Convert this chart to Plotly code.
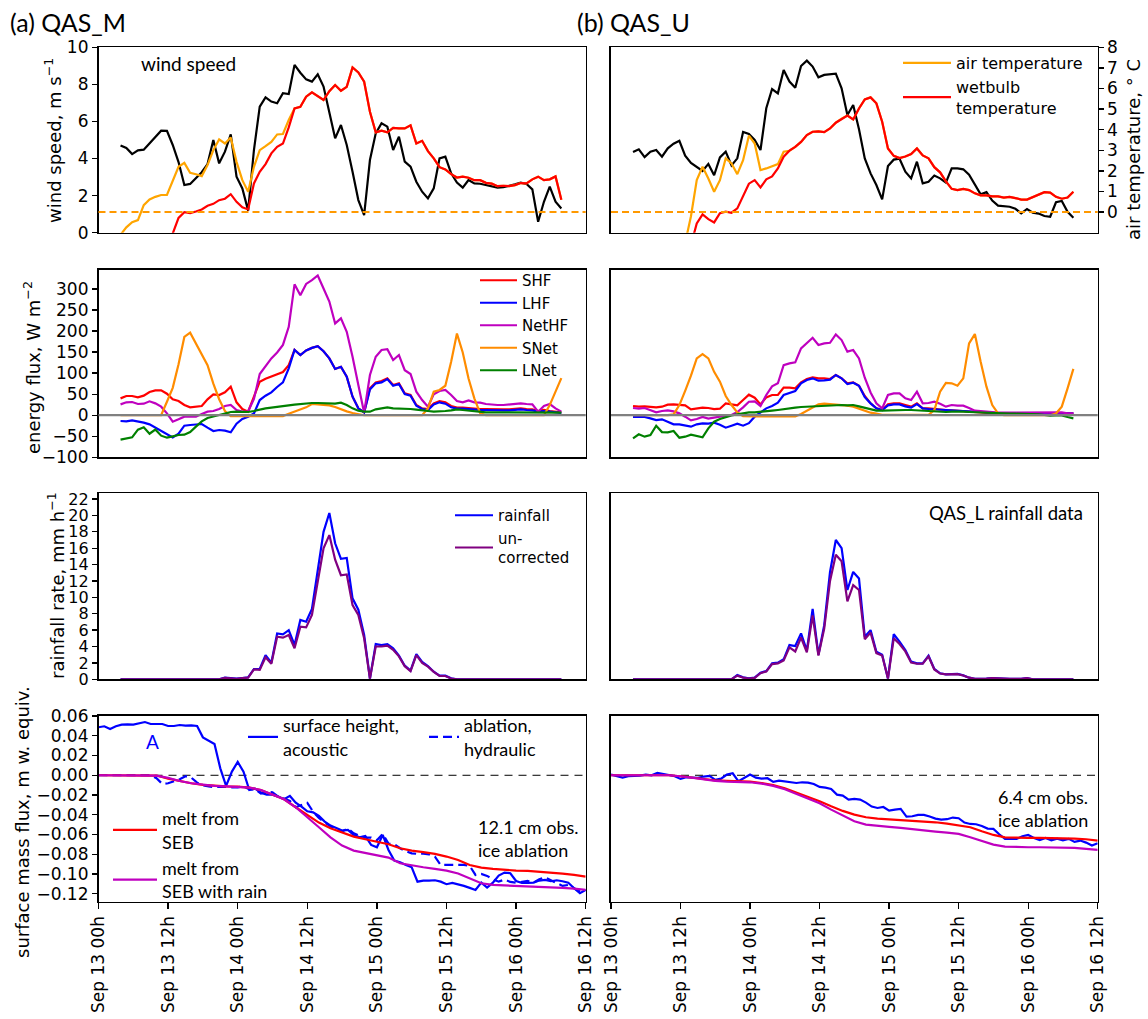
import plotly.graph_objects as go

W, H = 1148, 1019

# ---------------- time grids (hours after Sep 13 00h) ----------------
HOURS_MET = [h + 0.8 for h in range(3, 80)]      # 77 hourly samples (rows 1-3)
HOURS_SMB = list(range(0, 85))                   # hourly samples (row 4 observations)
HOURS_SMB2 = list(range(0, 85, 2))               # 2-hourly samples (row 4 SEB melt)

TICK_HOURS = [0, 12, 24, 36, 48, 60, 72, 84]
TICK_LABELS = ["Sep 13 00h", "Sep 13 12h", "Sep 14 00h", "Sep 14 12h",
               "Sep 15 00h", "Sep 15 12h", "Sep 16 00h", "Sep 16 12h"]

# ---------------- (a) QAS_M ----------------
WIND_M = [4.71, 4.57, 4.24, 4.44, 4.48, 4.82, 5.18, 5.50, 5.49, 4.73,
          3.81, 2.57, 2.63, 2.93, 3.26, 3.70, 5.00, 3.74, 4.37, 5.30,
          3.02, 2.39, 1.19, 4.46, 6.80, 7.30, 7.07, 6.98, 7.52, 7.48,
          9.05, 8.63, 8.27, 8.15, 8.54, 7.88, 6.53, 5.09, 5.81, 4.73,
          3.29, 1.76, 0.95, 3.92, 5.36, 5.90, 5.72, 4.46, 5.18, 3.83,
          3.56, 2.75, 2.21, 1.85, 2.39, 4.01, 4.10, 3.20, 2.70, 2.43,
          2.84, 2.66, 2.64, 2.57, 2.50, 2.43, 2.45, 2.55, 2.61, 2.70,
          2.63, 2.34, 0.59, 1.67, 2.48, 1.67, 1.31]
WETBULB_M = [None, None, None, None, None, None, None, None, -1.8, -1.0,
             -0.28, 0.0, -0.05, 0.03, 0.13, 0.31, 0.40, 0.58, 0.65, 0.87,
             0.50, 0.23, 0.13, 1.39, 1.96, 2.33, 2.85, 3.17, 3.33, 4.11,
             5.03, 5.11, 5.60, 5.81, 5.63, 5.44, 5.87, 6.17, 5.89, 6.08,
             7.02, 6.78, 6.33, 4.87, 3.87, 3.95, 3.87, 4.09, 4.06, 4.06,
             4.21, 3.33, 3.46, 2.96, 2.61, 2.18, 2.07, 1.84, 1.68, 1.72,
             1.67, 1.55, 1.55, 1.42, 1.38, 1.26, 1.28, 1.26, 1.31, 1.41,
             1.39, 1.59, 1.72, 1.55, 1.59, 1.73, 0.60]
AIRT_M = [-1.1, -0.74, -0.49, -0.39, 0.34, 0.61, 0.74, 0.83, 0.83, 1.47,
          2.20, 2.39, 1.91, 1.84, 1.75, 2.28, 3.01, 3.53, 3.33, 3.62,
          2.44, 1.55, 0.99, 2.20, 3.01, 3.20, 3.41, 3.77, 3.79, 4.47,
          5.03, 5.11, 5.60, 5.81, 5.63, 5.44, 5.87, 6.17, 5.89, 6.08,
          7.02, 6.78, 6.33, 4.87, 3.87, 3.95, 3.87, 4.09, 4.06, 4.06,
          4.21, 3.33, 3.46, 2.96, 2.61, 2.18, 2.07, 1.84, 1.68, 1.72,
          1.67, 1.55, 1.55, 1.42, 1.38, 1.26, 1.28, 1.26, 1.31, 1.41,
          1.39, 1.59, 1.72, 1.55, 1.59, 1.73, 0.60]

SHF_M = [40, 45.6, 45.6, 42.4, 46.4, 55.1, 59, 59, 51.1, 37.7,
         33.7, 24.2, 18.7, 20.3, 21.9, 37.7, 49.6, 48, 54.3, 67.7,
         30.6, 14.7, 8.4, 44, 79.6, 86.8, 91.5, 97.8, 102.6, 119,
         155, 143, 154, 160, 164, 152, 135, 110, 115, 91.5,
         44, 16.3, 6.8, 63.8, 78, 81, 87.4, 71.7, 75.7, 51.9,
         48, 24.2, 16.3, 14.7, 28.2, 33.7, 30.6, 21.9, 17.9, 17.9,
         16.3, 16.3, 14.7, 14.7, 13.9, 13.9, 13.9, 13.9, 14.7, 16.3,
         14.7, 13.9, 10, 12.4, 10, 8.4, 6.8]
LHF_M = [-13.8, -14.6, -12.2, -14.6, -17.7, -21.7, -29.6, -38.3, -45.4, -52.6,
         -43.9, -24.9, -23.3, -21.7, -20.9, -29.6, -37.5, -35.2, -36.7, -40.7,
         -20.1, -9, -3.5, 4.4, 36, 46.4, 54.3, 67, 78, 111.3,
         155, 143, 154, 160, 164, 152, 135, 110, 115, 91.5,
         44, 16.3, 6.8, 61.4, 75.7, 78, 85.8, 70, 74, 50.4,
         46.4, 22.6, 14.7, 12.4, 25.8, 30.6, 27.4, 18.7, 15.5, 15.5,
         13.9, 13.9, 12.4, 12.4, 11.6, 11.6, 11.6, 11.6, 12.4, 13.9,
         12.4, 11.6, 8.4, 10, 8.4, 6.8, 5.2]
NETHF_M = [25.8, 30.6, 31.4, 26.6, 27.4, 33, 28.2, 20.3, 4.4, -15.4,
           -9.8, -3.5, -3.5, -3.5, 2.9, 8.4, 10, 14.7, 21.9, 24.2,
           12.4, 8.4, 9.2, 38.5, 97.8, 115, 135, 149, 167, 210,
           311, 285, 312, 321, 332, 301, 270, 218, 230, 198,
           139, 71.7, 6, 95.5, 139, 155, 157, 131, 143, 107,
           97.9, 55.9, 36.1, 20.3, 49.6, 57.5, 59.9, 48, 33.7, 30.6,
           35.3, 30.6, 29.8, 26.6, 25, 24.2, 24.2, 25, 26.6, 28.2,
           26.6, 25.8, 8.4, 21.9, 26.6, 16.3, 8.4]
SNET_M = [0, 0, 0, 0, 0, 0, 0, 0, 32, 65,
          121, 186, 196, 171, 147, 119, 75, 38, 10, -2,
          -2, -2, -2, -2, -2, -2, -2, -2, -2, 3.6,
          8.4, 14, 18.7, 26.6, 25.8, 25, 23.4, 19.5, 14, 9.2,
          5.2, 2, 0, 0, 0, 0, 0, 0, 0, 0,
          0, 0, 0, 16, 56, 60, 70, 127, 194, 149,
          87, 40, 5, 0, 0, 0, 0, 0, 0, 0,
          0, 0, 0, 0, 24, 56, 88]
LNET_M = [-58, -55.7, -52.6, -34.3, -28.8, -43.9, -34, -48.6, -53.4, -50.2,
          -47, -46.2, -40, -27.2, -14.6, -6.7, -3.5, 0.5, 4.4, 7.6,
          8.4, 8.4, 7.6, 10, 14, 16.3, 17.9, 20.3, 21.9, 23.4,
          25, 26.6, 28.2, 29, 29, 29, 27.4, 27.4, 29.8, 24.2,
          16.3, 10.8, 8.4, 8.4, 14, 17.1, 18.7, 16.3, 16.3, 15.5,
          14.7, 13.1, 10.8, 10, 8.4, 8.4, 10, 11.6, 14, 12.4,
          10.8, 9.2, 8.4, 6.8, 6.8, 6.8, 6.8, 6.8, 6.8, 6.8,
          6.8, 6.8, 6.8, 6.8, 6, 6, 6]

RAIN_M = [0] * 18 + [0.2, 0.16, 0.08, 0.16, 0.24, 1.26, 1.26, 2.96, 2.03, 5.6,
                     5.49, 6.0, 4.19, 7.24, 7.03, 8.58, 13.1, 18.0, 20.3, 16.6,
                     14.7, 14.8, 9.88, 8.5, 5.4, 0.1, 4.3, 4.18, 4.3, 3.78,
                     2.88, 1.66, 1.05, 3.08, 2.11, 1.62, 0.93, 0.44, 0.44, 0.12] + [0] * 19
RAIN_UNCORR_M = [0] * 18 + [0.18, 0.14, 0.07, 0.14, 0.2, 1.2, 1.15, 2.7, 1.9, 5.2,
                            5.08, 5.4, 3.78, 6.42, 6.34, 7.85, 12.1, 16.0, 17.6, 14.6,
                            12.7, 12.8, 9.06, 7.85, 5.0, 0.1, 4.0, 4.0, 4.1, 3.6,
                            2.8, 1.6, 1.0, 2.95, 2.0, 1.55, 0.9, 0.4, 0.4, 0.1] + [0] * 19

SURF_ACOUSTIC_M = [0.0486, 0.0496, 0.0469, 0.0496, 0.0512, 0.0516, 0.0512, 0.0523, 0.0539, 0.0519,
                   0.0516, 0.0519, 0.0499, 0.0499, 0.0509, 0.0502, 0.0506, 0.0499, 0.0384, 0.0351,
                   0.0317, 0.007, -0.0108, 0.0037, 0.0135, 0.0037, -0.0149, -0.0135, -0.0176, -0.0196,
                   -0.0196, -0.0216, -0.0243, -0.0209, -0.0277, -0.0317, -0.0365, -0.0375, -0.0412, -0.0469,
                   -0.0510, -0.0533, -0.0560, -0.0553, -0.0604, -0.0628, -0.0614, -0.0705, -0.0729, -0.0604,
                   -0.0756, -0.0864, -0.0881, -0.0908, -0.0931, -0.1077, -0.1066, -0.1066, -0.1063, -0.1077,
                   -0.1103, -0.1090, -0.1103, -0.1120, -0.1140, -0.1161, -0.1087, -0.1137, -0.1087, -0.1016,
                   -0.0985, -0.0992, -0.1070, -0.1090, -0.1090, -0.1087, -0.1066, -0.1060, -0.1073, -0.1063,
                   -0.1073, -0.1087, -0.1144, -0.1194, -0.1161]
ABLATION_HYD_M = [0, 0, 0, 0, 0, 0, 0, 0, 0, 0,
                  -0.0030, -0.0088, -0.0081, -0.0064, -0.0041, -0.0010, -0.0024, -0.0075, -0.0102, -0.0112,
                  -0.0122, -0.0115, -0.0122, -0.0122, -0.0122, -0.0112, -0.0142, -0.0142, -0.0186, -0.0169,
                  -0.0172, -0.0216, -0.0236, -0.0260, -0.0324, -0.0300, -0.0280, -0.0368, -0.0432, -0.0476,
                  -0.0520, -0.0557, -0.0567, -0.0540, -0.0587, -0.0614, -0.0631, -0.0631, -0.0658, -0.0594,
                  -0.0692, -0.0698, -0.0739, -0.0769, -0.0790, -0.0796, -0.0793, -0.0800, -0.0824, -0.0908,
                  -0.0908, -0.0908, -0.0908, -0.0908, -0.0918, -0.1009, -0.0999, -0.1019, -0.1053, -0.1077,
                  -0.1056, -0.1080, -0.1087, -0.1080, -0.1070, -0.1087, -0.1053, -0.1033, -0.1063, -0.1097,
                  -0.1120, -0.1110, -0.1147, -0.1177, -0.1161]
MELT_SEB_M = [0, 0, 0, 0, 0, -0.0003, -0.0034, -0.0061, -0.0081, -0.0098,
              -0.0108, -0.0112, -0.0115, -0.0125, -0.0149, -0.0192, -0.0243, -0.0324, -0.0402, -0.0479,
              -0.0536, -0.0580, -0.0621, -0.0648, -0.0671, -0.0698, -0.0739, -0.0763, -0.0779, -0.0796,
              -0.0823, -0.0857, -0.0908, -0.0935, -0.0948, -0.0958, -0.0965, -0.0968, -0.0975, -0.0985,
              -0.0995, -0.1009, -0.1026]
MELT_SEB_RAIN_M = [0, 0, 0, 0, 0, -0.0003, -0.0027, -0.0058, -0.0081, -0.0098,
                   -0.0108, -0.0112, -0.0115, -0.0125, -0.0149, -0.0192, -0.0243, -0.0324, -0.0429, -0.0526,
                   -0.0628, -0.0712, -0.0763, -0.0786, -0.0806, -0.0833, -0.0891, -0.0914, -0.0931, -0.0948,
                   -0.0965, -0.0995, -0.1042, -0.1093, -0.1110, -0.1114, -0.1120, -0.1124, -0.1127, -0.1134,
                   -0.1140, -0.1147, -0.1161]

# ---------------- (b) QAS_U ----------------
WIND_U = [4.35, 4.50, 4.08, 4.37, 4.46, 4.10, 4.55, 4.80, 4.96, 4.15,
          3.76, 3.56, 3.33, 3.71, 3.10, 4.06, 4.37, 3.63, 4.01, 5.43,
          5.32, 5.00, 4.46, 6.71, 7.75, 7.52, 8.78, 8.15, 7.82, 8.99,
          9.28, 8.96, 8.38, 8.51, 8.54, 8.58, 7.79, 6.35, 6.89, 5.58,
          4.01, 3.20, 2.57, 1.80, 3.60, 3.94, 3.99, 3.29, 2.93, 3.83,
          2.66, 2.75, 3.08, 2.93, 2.70, 3.47, 3.47, 3.42, 3.13, 2.63,
          2.07, 2.19, 1.73, 1.46, 1.42, 1.40, 1.29, 1.04, 1.28, 1.08,
          1.03, 0.90, 0.86, 1.64, 1.71, 1.13, 0.81]
WETBULB_U = [None] * 10 + [-1.6, -0.55, -0.11, -0.34, -0.5, -0.05, 0.02, -0.03, 0.18, 0.74,
                           1.38, 1.55, 1.2, 1.59, 1.73, 2.12, 2.69, 2.98, 3.17, 3.41,
                           3.74, 3.9, 3.92, 3.88, 4.06, 4.34, 4.53, 4.69, 4.5, 5.03,
                           5.47, 5.57, 5.28, 4.39, 3.09, 2.73, 2.62, 2.7, 2.82, 3.09,
                           2.75, 2.61, 2.18, 1.93, 1.49, 1.13, 1.07, 1.13, 1.07, 0.91,
                           0.81, 0.81, 0.76, 0.76, 0.70, 0.74, 0.68, 0.61, 0.61, 0.74,
                           0.84, 0.97, 0.95, 0.74, 0.65, 0.71, 0.99]
AIRT_U = [None] * 9 + [-1.5, -0.2, 1.55, 2.2, 1.63, 0.99, 1.55, 2.61, 2.36, 1.84, 2.52,
                       3.71, 3.33, 2.04, 2.12, 2.23, 2.33, 2.93, 2.98, 3.17, 3.41,
                       3.74, 3.9, 3.92, 3.88, 4.06, 4.34, 4.53, 4.69, 4.5, 5.03,
                       5.47, 5.57, 5.28, 4.39, 3.09, 2.73, 2.62, 2.7, 2.82, 3.09,
                       2.75, 2.61, 2.18, 1.93, 1.49, 1.13, 1.07, 1.13, 1.07, 0.91,
                       0.81, 0.81, 0.76, 0.76, 0.70, 0.74, 0.68, 0.61, 0.61, 0.74,
                       0.84, 0.97, 0.95, 0.74, 0.65, 0.71, 0.99]

SHF_U = [21.9, 20.3, 21, 19.5, 18.7, 20.3, 25, 25.8, 25, 23.4,
         13.9, 16.3, 17.9, 17.1, 14.7, 15.5, 28.2, 25.8, 23.4, 36,
         48.8, 41.6, 25.8, 42.4, 48, 48, 65.4, 65.4, 63.8, 78,
         86, 90, 87.6, 87.6, 86, 95.5, 87.6, 75.7, 78, 70,
         45.6, 28.2, 16.3, 12.4, 25.8, 28.2, 28.2, 24.2, 20.3, 28.2,
         16.3, 16.3, 14.7, 12.4, 12.4, 11.6, 10.8, 10.8, 10, 8.4,
         6.8, 5.5, 5.2, 5, 5, 5, 5, 5, 5, 5,
         5, 5, 5, 5, 4.5, 4.5, 4.5]
LHF_U = [-4.3, -5.1, -4.3, -7.4, -11.4, -9.8, -15.4, -21.7, -21.7, -24,
         -27.2, -21.7, -19.3, -20.1, -17.7, -22.5, -29.6, -24.9, -20.1, -24.9,
         -19, -3.5, 6.8, 16.3, 21.9, 29.8, 48, 52.7, 57.5, 75.7,
         83.6, 87.6, 82, 82.8, 84.4, 95.5, 87.6, 74, 77.2, 70,
         43.2, 28.2, 16.3, 12.4, 23.4, 25.8, 25.8, 21, 17.9, 26.6,
         16.3, 14.7, 13.9, 12.4, 10.8, 10, 10, 9.2, 9.2, 8.4,
         6.8, 5.2, 5.2, 5.2, 5.2, 5.2, 5.2, 5.2, 5.2, 5.2,
         5.2, 5.2, 5.2, 5.2, 4.4, 4.4, 4.4]
NETHF_U = [17.1, 15.5, 17.1, 11.6, 6.8, 10, 11.6, 9.2, 4.4, -3.5,
           -12.2, -9, -4.3, -8.2, -5.9, -1.9, -1.1, 0.5, 7.6, 18.7,
           32.1, 33, 22, 48, 68.6, 75.7, 119, 123, 125.5, 158.7,
           170.8, 184, 166.8, 170.8, 172, 192, 178.6, 151, 154.8, 135,
           89, 54, 28.2, 16.3, 48, 52, 52, 40, 36, 55.9,
           28.2, 29, 32, 27.4, 20.3, 24.2, 22.6, 22.6, 17.1, 10.8,
           10, 8.4, 6.8, 6, 6, 6, 6, 6, 6, 6,
           6, 6, 6, 6.8, 6.8, 4.4, 4.4]
SNET_U = [0, 0, 0, 0, 0, 0, 0, 2, 24, 58,
          94, 135, 145, 135, 103, 79.6, 45.6, 24.2, 6.8, -2,
          -3, -3, -3, -3, -3, -3, -3, -3, -3, 3,
          10, 18.7, 25.8, 27.4, 26.6, 25.8, 24.2, 22.6, 20.3, 15.5,
          10, 6, 3.6, 1, 1, 1, 1, 1, 1, 1,
          1, 1, 12.4, 56, 77, 75.7, 70, 87.6, 170.6, 192.8,
          127, 67.8, 24.2, 4.4, 0, 0, 0, 0, 0, 0,
          0, 0, 0, 4, 20.3, 63.8, 110]
LNET_U = [-55, -45.4, -51, -47, -24.9, -40, -40.7, -37.5, -53.4, -51,
          -46.2, -49.3, -52.6, -31.2, -15.4, -9, -4.3, -0.3, 2, 4.4,
          6.8, 6.8, 7.6, 9.2, 10.8, 12.4, 14.7, 16.3, 17.9, 19.5,
          20.3, 21, 21.9, 22.6, 23.4, 24.2, 24.2, 23.4, 24.2, 21,
          17.1, 13.1, 10.8, 10.8, 11.6, 12.4, 12.4, 12.4, 12.4, 11.6,
          10, 9.2, 8.4, 7.6, 7.6, 8.4, 9.2, 8.4, 7.6, 6.8,
          6, 5.2, 4.4, 3.6, 3.6, 3.6, 3.6, 3.6, 3.6, 2.9,
          2, 0.5, -1.1, -0.3, -0.3, -4.3, -7.4]

RAIN_U = [0] * 18 + [0.52, 0.24, 0.12, 0.2, 0.81, 1.0, 1.95, 2.03, 2.44, 4.18,
                     4.06, 5.6, 3.5, 8.6, 3.0, 6.6, 13.1, 17.0, 16.0, 10.9,
                     13.1, 12.3, 5.2, 6.0, 3.37, 3.0, 0.1, 5.5, 4.6, 3.57,
                     2.15, 1.95, 1.95, 2.88, 1.26, 0.73, 0.61, 0.65, 0.65, 0.48,
                     0.2, 0.05, 0.05, 0.1, 0.15, 0.1, 0.05, 0.05, 0.05, 0.05,
                     0.15] + [0] * 8
RAIN_UNCORR_U = [0] * 18 + [0.45, 0.2, 0.1, 0.18, 0.75, 0.95, 1.85, 1.95, 2.3, 3.9,
                            3.4, 5.1, 3.3, 7.8, 2.9, 6.2, 12.0, 15.2, 14.4, 9.5,
                            11.5, 10.9, 4.9, 5.7, 3.2, 2.9, 0.1, 5.0, 4.3, 3.4,
                            2.05, 1.9, 1.9, 2.8, 1.2, 0.7, 0.6, 0.62, 0.62, 0.46,
                            0.2, 0.05, 0.05, 0.1, 0.15, 0.1, 0.05, 0.05, 0.05, 0.05,
                            0.15] + [0] * 8

SURF_ACOUSTIC_U = [0.0007, -0.0007, -0.0024, -0.0010, -0.0007, -0.0003, 0.0007, 0.0, 0.0024, 0.0010,
                   0.0003, -0.0010, -0.0037, -0.0020, -0.0027, -0.0027, -0.0013, -0.0007, -0.0047, -0.0034,
                   0.0007, 0.0020, -0.0061, -0.0027, 0.0007, -0.0024, -0.0034, -0.0030, -0.0067, -0.0054,
                   -0.0061, -0.0064, -0.0078, -0.0071, -0.0074, -0.0088, -0.0118, -0.0125, -0.0138, -0.0196,
                   -0.0206, -0.0246, -0.0240, -0.0246, -0.0277, -0.0317, -0.0331, -0.0321, -0.0358, -0.0348,
                   -0.0341, -0.0418, -0.0415, -0.0401, -0.0401, -0.0418, -0.0439, -0.0449, -0.0445, -0.0428,
                   -0.0435, -0.0479, -0.0493, -0.0496, -0.0513, -0.0540, -0.0543, -0.0597, -0.0644, -0.0644,
                   -0.0644, -0.0617, -0.0604, -0.0634, -0.0655, -0.0634, -0.0658, -0.0641, -0.0658, -0.0644,
                   -0.0675, -0.0661, -0.0682, -0.0712, -0.0688]
MELT_SEB_U = [0, 0, 0, 0, 0, 0, -0.0010, -0.0024, -0.0037, -0.0051,
              -0.0057, -0.0061, -0.0064, -0.0078, -0.0098, -0.0132, -0.0175, -0.0219, -0.0263, -0.0314,
              -0.0361, -0.0398, -0.0425, -0.0439, -0.0445, -0.0452, -0.0462, -0.0469, -0.0476, -0.0489,
              -0.0506, -0.0526, -0.0567, -0.0604, -0.0628, -0.0634, -0.0634, -0.0634, -0.0634, -0.0638,
              -0.0641, -0.0648, -0.0661]
MELT_SEB_RAIN_U = [0, 0, 0, 0, 0, 0, -0.0010, -0.0027, -0.0044, -0.0057,
                   -0.0064, -0.0067, -0.0071, -0.0084, -0.0108, -0.0142, -0.0189, -0.0233, -0.0283, -0.0348,
                   -0.0405, -0.0466, -0.0499, -0.0513, -0.0523, -0.0533, -0.0547, -0.0560, -0.0570, -0.0580,
                   -0.0594, -0.0628, -0.0665, -0.0702, -0.0722, -0.0729, -0.0729, -0.0729, -0.0729, -0.0732,
                   -0.0735, -0.0746, -0.0756]

# ---------------- styling ----------------
C_BLACK, C_AIRT, C_RED, C_BLUE = "#000000", "#FFA500", "#FF0000", "#0000FF"
C_MAG, C_SNET, C_GREEN, C_PURPLE, C_GRAY = "#BF00BF", "#FF8C00", "#008000", "#800080", "#808080"
DV = "DejaVu Sans"
AI = "Lato"
TICKFONT = dict(family=DV, size=17, color="black")

COL_X = [(98.5, 585.7), (611.0, 1097.7)]
ROW_Y = [(47.3, 232.7), (270.0, 457.3), (493.3, 679.3), (716.0, 901.7)]
Y_RANGES = [[0, 10], [-100, 345], [0, 22.7], [-0.128, 0.06]]
Y_TICKS = [[0, 2, 4, 6, 8, 10],
           [-100, -50, 0, 50, 100, 150, 200, 250, 300],
           [0, 2, 4, 6, 8, 10, 12, 14, 16, 18, 20, 22],
           [-0.12, -0.10, -0.08, -0.06, -0.04, -0.02, 0.0, 0.02, 0.04, 0.06]]


def ax_ids(i):
    return ("x" if i == 1 else f"x{i}"), ("y" if i == 1 else f"y{i}")


fig = go.Figure()


def line(x, y, i, color, name=None, legend=None, dash=None, width=2.2, yaxis=None):
    xa, ya = ax_ids(i)
    fig.add_trace(go.Scatter(
        x=x, y=y, mode="lines", xaxis=xa, yaxis=yaxis or ya,
        line=dict(color=color, width=width, dash=dash),
        name=name or "", showlegend=legend is not None,
        legend=legend or "legend", connectgaps=False, hoverinfo="skip"))


# row 1: wind speed (black) + temperatures on twin axis
line(HOURS_MET, WIND_M, 1, C_BLACK)
line(HOURS_MET, AIRT_M, 1, C_AIRT, yaxis="y9")
line(HOURS_MET, WETBULB_M, 1, C_RED, yaxis="y9")
line(HOURS_MET, WIND_U, 2, C_BLACK)
line(HOURS_MET, AIRT_U, 2, C_AIRT, yaxis="y10", name="air temperature", legend="legend")
line(HOURS_MET, WETBULB_U, 2, C_RED, yaxis="y10", name="wetbulb<br>temperature", legend="legend")

# row 2: energy fluxes
for i, (shf, lhf, net, sn, ln) in zip((3, 4), ((SHF_M, LHF_M, NETHF_M, SNET_M, LNET_M),
                                             (SHF_U, LHF_U, NETHF_U, SNET_U, LNET_U))):
    lg = "legend2" if i == 3 else None
    line(HOURS_MET, shf, i, C_RED, name="SHF", legend=lg)
    line(HOURS_MET, lhf, i, C_BLUE, name="LHF", legend=lg)
    line(HOURS_MET, net, i, C_MAG, name="NetHF", legend=lg)
    line(HOURS_MET, sn, i, C_SNET, name="SNet", legend=lg)
    line(HOURS_MET, ln, i, C_GREEN, name="LNet", legend=lg)

# row 3: rainfall
line(HOURS_MET, RAIN_M, 5, C_BLUE, name="rainfall", legend="legend3")
line(HOURS_MET, RAIN_UNCORR_M, 5, C_PURPLE, name="un-<br>corrected", legend="legend3")
line(HOURS_MET, RAIN_U, 6, C_BLUE)
line(HOURS_MET, RAIN_UNCORR_U, 6, C_PURPLE)

# row 4: surface mass flux
line(HOURS_SMB, SURF_ACOUSTIC_M, 7, C_BLUE, name="surface height,<br>acoustic", legend="legend4")
line(HOURS_SMB, ABLATION_HYD_M, 7, C_BLUE, name="ablation,<br>hydraulic", legend="legend4",
     dash="9px,5px")
line(HOURS_SMB2, MELT_SEB_M, 7, C_RED, name="melt from<br>SEB", legend="legend5")
line(HOURS_SMB2, MELT_SEB_RAIN_M, 7, C_MAG, name="melt from<br>SEB with rain", legend="legend5")
line(HOURS_SMB, SURF_ACOUSTIC_U, 8, C_BLUE)
line(HOURS_SMB2, MELT_SEB_U, 8, C_RED)
line(HOURS_SMB2, MELT_SEB_RAIN_U, 8, C_MAG)

layout = dict(width=W, height=H, margin=dict(l=0, r=0, t=0, b=0, autoexpand=False),
              paper_bgcolor="white", plot_bgcolor="white",
              font=dict(family=DV, size=16, color="black"), showlegend=True)

for r in range(4):
    for c in range(2):
        i = r * 2 + c + 1
        xa, ya = ax_ids(i)
        x0, x1 = COL_X[c]
        y0, y1 = ROW_Y[r]
        xd = dict(domain=[x0 / W, x1 / W], range=[0, 84], anchor=ya,
                  showline=True, mirror=True, linecolor="black", linewidth=1.6,
                  showgrid=False, zeroline=False, fixedrange=True, automargin=False)
        if r == 3:
            xd.update(tickmode="array", tickvals=TICK_HOURS, ticktext=TICK_LABELS,
                      tickangle=-90, ticks="outside", ticklen=6, tickwidth=1.3,
                      tickcolor="black", tickfont=TICKFONT)
        else:
            xd.update(showticklabels=False, ticks="")
        yd = dict(domain=[1 - y1 / H, 1 - y0 / H], range=Y_RANGES[r], anchor=xa,
                  showline=True, mirror=True, linecolor="black", linewidth=1.6,
                  showgrid=False, zeroline=False, fixedrange=True, automargin=False,
                  tickmode="array", tickvals=Y_TICKS[r], tickfont=TICKFONT)
        if c == 0:
            yd.update(ticks="outside", ticklen=5, tickwidth=1.3, tickcolor="black")
            if r == 3:
                yd.update(tickformat=".2f")
            if r == 2:
                yd.update(tickfont=dict(family=DV, size=16, color="black"))
        else:
            yd.update(ticks="", showticklabels=False)
        layout["xaxis" if i == 1 else f"xaxis{i}"] = xd
        layout["yaxis" if i == 1 else f"yaxis{i}"] = yd

layout["yaxis9"] = dict(overlaying="y", anchor="x", side="right", range=[-1, 8],
                        showticklabels=False, ticks="", showline=False, showgrid=False,
                        zeroline=False, fixedrange=True, automargin=False)
layout["yaxis10"] = dict(overlaying="y2", anchor="x2", side="right", range=[-1, 8],
                         tickmode="array", tickvals=[0, 1, 2, 3, 4, 5, 6, 7, 8],
                         ticks="outside", ticklen=5, tickwidth=1.3, tickcolor="black",
                         tickfont=TICKFONT, showline=False, showgrid=False,
                         zeroline=False, fixedrange=True, automargin=False)

LEG = dict(bgcolor="rgba(0,0,0,0)", borderwidth=0, xanchor="left", yanchor="top",
           tracegroupgap=0, itemclick=False, itemdoubleclick=False)
layout["legend"] = dict(LEG, x=898 / W, y=1 - 46 / H, itemwidth=48,
                        font=dict(family=DV, size=16))
layout["legend2"] = dict(LEG, x=475 / W, y=1 - 264 / H, itemwidth=37,
                         font=dict(family=DV, size=15))
layout["legend3"] = dict(LEG, x=450 / W, y=1 - 499 / H, itemwidth=38,
                         font=dict(family=DV, size=15))
layout["legend4"] = dict(LEG, x=243 / W, y=1 - 707 / H, orientation="h", itemwidth=30,
                         entrywidth=136, entrywidthmode="pixels",
                         font=dict(family=AI, size=18))
layout["legend5"] = dict(LEG, x=108 / W, y=1 - 800 / H, itemwidth=44,
                         font=dict(family=AI, size=18))

fig.update_layout(**layout)

# reference lines
fig.add_shape(type="line", xref="x domain", yref="y9", x0=0, x1=1, y0=0, y1=0,
              line=dict(color="#FF9900", width=2, dash="7px,4px"))
fig.add_shape(type="line", xref="x2 domain", yref="y10", x0=0, x1=1, y0=0, y1=0,
              line=dict(color="#FF9900", width=2, dash="7px,4px"))
for xa, ya in (("x3", "y3"), ("x4", "y4")):
    fig.add_shape(type="line", xref=f"{xa} domain", yref=ya, x0=0, x1=1, y0=0, y1=0,
                  line=dict(color=C_GRAY, width=2.2), layer="above")
for xa, ya in (("x7", "y7"), ("x8", "y8")):
    fig.add_shape(type="line", xref=f"{xa} domain", yref=ya, x0=0, x1=1, y0=0, y1=0,
                  line=dict(color="black", width=1, dash="8px,6px"), layer="below")


def note(text, px, py, size=17, family=AI, color="black", xanchor="left", angle=0):
    fig.add_annotation(text=text, x=px / W, y=1 - py / H, xref="paper", yref="paper",
                       showarrow=False, xanchor=xanchor, yanchor="middle", textangle=angle,
                       align="left", font=dict(family=family, size=size, color=color))


note("(a) QAS_M", 8, 22, size=25)
note("(b) QAS_U", 575, 22, size=25)
note("wind speed", 139, 64, size=19)
note("QAS_L rainfall data", 1085, 513, size=18.5, xanchor="right")
note("A", 153, 741, size=19, color=C_BLUE, xanchor="center")
note("12.1 cm obs.<br>ice ablation", 476, 838, size=18)
note("6.4 cm obs.<br>ice ablation", 996, 808, size=18)

# axis titles
note("wind speed, m s<sup>−1</sup>", 53, 141, size=18, family=DV, xanchor="center", angle=-90)
note("energy flux, W m<sup>−2</sup>", 32, 368, size=18, family=DV, xanchor="center", angle=-90)
note("rainfall rate, mm h<sup>−1</sup>", 56, 586, size=18, family=DV, xanchor="center", angle=-90)
note("surface mass flux, m w. equiv.", 22, 822, size=18, family=DV, xanchor="center", angle=-90)
note("air temperature, ° C", 1133, 150, size=18, family=DV, xanchor="center", angle=-90)

# the page body gets no default 8px margin, so the figure sits at the window's top-left
fig.write_html("out.html", config={"displayModeBar": False, "staticPlot": True},
               post_script="document.body.style.margin='0px';"
                           "document.body.style.overflow='hidden';")
